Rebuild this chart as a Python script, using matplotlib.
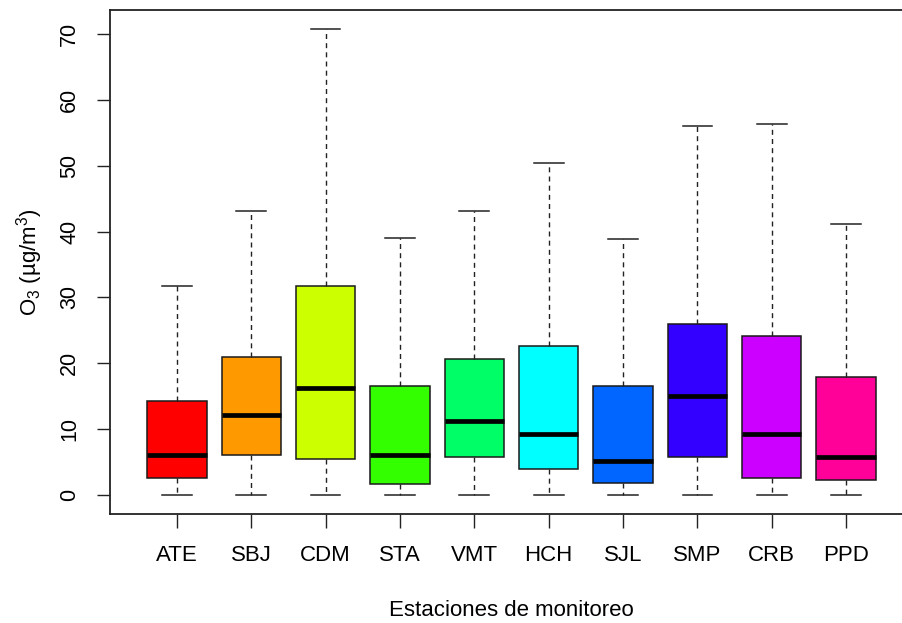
import matplotlib
matplotlib.use("Agg")
import matplotlib.pyplot as plt

plt.rcParams["font.family"] = ["Liberation Sans", "DejaVu Sans"]
plt.rcParams["mathtext.default"] = "regular"

# O3 summary per monitoring station (ug/m3)
stations = ["ATE", "SBJ", "CDM", "STA", "VMT", "HCH", "SJL", "SMP", "CRB", "PPD"]
whislo = [0.0, 0.0, 0.0, 0.0, 0.0, 0.0, 0.0, 0.0, 0.0, 0.0]
q1 = [2.6, 6.1, 5.5, 1.6, 5.7, 4.0, 1.8, 5.8, 2.6, 2.3]
med = [6.0, 12.1, 16.3, 6.0, 11.2, 9.3, 5.1, 15.0, 9.2, 5.8]
q3 = [14.2, 20.9, 31.7, 16.6, 20.7, 22.6, 16.6, 25.9, 24.1, 17.9]
whishi = [31.7, 43.2, 70.8, 39.1, 43.2, 50.4, 38.9, 56.0, 56.4, 41.1]

# R rainbow(10)
colors = ["#FF0000", "#FF9900", "#CCFF00", "#33FF00", "#00FF66",
          "#00FFFF", "#0066FF", "#3300FF", "#CC00FF", "#FF0099"]

stats = [dict(label=s, whislo=a, q1=b, med=c, q3=d, whishi=e, fliers=[])
         for s, a, b, c, d, e in zip(stations, whislo, q1, med, q3, whishi)]

fig = plt.figure(figsize=(9.02, 6.23), dpi=100)
ax = fig.add_axes([110 / 902, 109.5 / 623, 803 / 902, 503.2 / 623])

pos = list(range(1, len(stations) + 1))
bp = ax.bxp(stats, positions=pos, widths=0.8, patch_artist=True,
            showfliers=False,
            boxprops=dict(edgecolor="#1a1a1a", linewidth=1.1),
            medianprops=dict(color="black", linewidth=3.4, solid_capstyle="butt"),
            whiskerprops=dict(color="#222222", linewidth=1.0,
                              linestyle=(0, (3.6, 3.0))),
            capprops=dict(color="#222222", linewidth=1.1),
            capwidths=0.4)
for patch, c in zip(bp["boxes"], colors):
    patch.set_facecolor(c)

ax.set_xlim(0.1, 10.9)
ax.set_ylim(-2.832, 73.632)
ax.set_xticks(pos)
ax.set_xticklabels(stations)
ax.set_yticks([0, 10, 20, 30, 40, 50, 60, 70])
ax.tick_params(axis="y", labelrotation=90, length=9.5, width=1.0, pad=12,
               labelsize=15.5, color="#222222")
ax.tick_params(axis="x", length=10, width=1.0, pad=13, labelsize=16,
               color="#222222")
for t in ax.get_yticklabels():
    t.set_va("center")
for s in ax.spines.values():
    s.set_linewidth(1.3)
    s.set_color("#222222")

ax.set_xlabel("Estaciones de monitoreo", fontsize=16, labelpad=24)
ax.set_ylabel("O$_3$ (µg/m$^3$)", fontsize=16, labelpad=10)

fig.savefig("out.png", dpi=100)
